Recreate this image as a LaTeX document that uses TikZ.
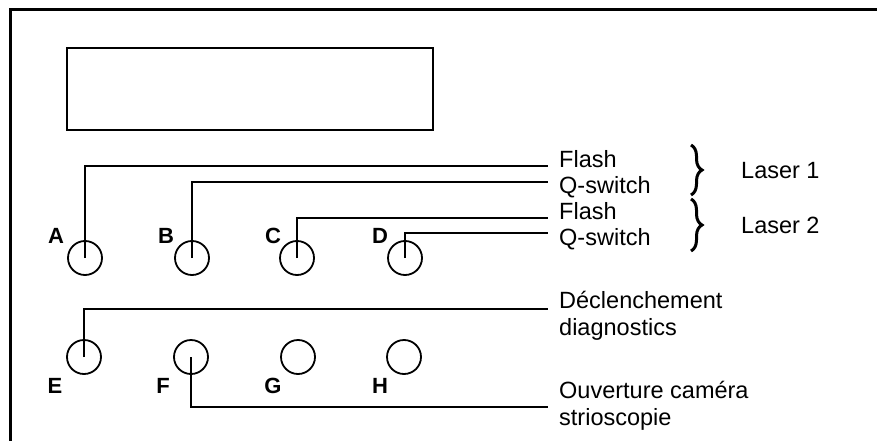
\documentclass[tikz,border=0pt]{standalone}
\usepackage{fontspec}
\setmainfont{Liberation Sans}
\usetikzlibrary{decorations.pathreplacing}
\begin{document}
\begin{tikzpicture}[x=1pt,y=-1pt,
  port/.style={circle,draw,minimum size=34pt,inner sep=0pt,line width=1.8pt},
  lab/.style={font=\fontsize{22}{25}\selectfont\bfseries,inner sep=0pt},
  txt/.style={font=\fontsize{23.5}{27}\selectfont,inner sep=0pt,anchor=base west},
  wire/.style={line width=1.3pt},
  brc/.style={decorate,decoration={brace,amplitude=11pt,aspect=0.5},line width=3pt}]
\useasboundingbox (0,0) rectangle (877,441);
% outer frame
\draw[line width=3pt] (10,445) -- (10,10) -- (880,10);
% display window
\draw[line width=2pt] (67,48) rectangle (433,130);
% upper ports
\node[port] (A) at (85,258) {};
\node[port] (B) at (192,258) {};
\node[port] (C) at (297,258) {};
\node[port] (D) at (405,258) {};
\node[lab] (lA) at (56,236) {A};
\node[lab] (lB) at (166,236) {B};
\node[lab] (lC) at (273,236) {C};
\node[lab] (lD) at (380,236) {D};
% lower ports
\node[port] (E) at (84,357) {};
\node[port] (F) at (191,357) {};
\node[port] (G) at (298,357) {};
\node[port] (H) at (404,357) {};
\node[lab] (lE) at (55,386) {E};
\node[lab] (lF) at (163,386) {F};
\node[lab] (lG) at (273,386) {G};
\node[lab] (lH) at (380,386) {H};
% texts
\node[txt] (t1) at (559,167) {Flash};
\node[txt] (t2) at (559,193) {Q-switch};
\node[txt] (t3) at (559,219) {Flash};
\node[txt] (t4) at (559,245.5) {Q-switch};
\node[txt] (t5) at (559,308) {Déclenchement};
\node[txt] (t6) at (559,335) {diagnostics};
\node[txt] (t7) at (559,398) {Ouverture caméra};
\node[txt] (t8) at (559,425) {strioscopie};
\node[font=\fontsize{23.5}{27}\selectfont,inner sep=0pt,anchor=west] (L1) at (741,171) {Laser 1};
\node[font=\fontsize{23.5}{27}\selectfont,inner sep=0pt,anchor=west] (L2) at (741,225) {Laser 2};
% wire ends
\coordinate (eA) at (548,166);
\coordinate (eB) at (548,182);
\coordinate (eC) at (548,218);
\coordinate (eD) at (548,233);
\coordinate (eE) at (548,309);
\coordinate (eF) at (548,407);
\draw[wire] (A.center) |- (eA);
\draw[wire] (B.center) |- (eB);
\draw[wire] (C.center) |- (eC);
\draw[wire] (D.center) |- (eD);
\draw[wire] (E.center) |- (eE);
\draw[wire] (F.center) |- (eF);
% braces
\coordinate (b1t) at (691,145);
\coordinate (b1b) at (691,195);
\coordinate (b2t) at (691,199);
\coordinate (b2b) at (691,251);
\draw[brc] (b1t) -- (b1b);
\draw[brc] (b2t) -- (b2b);
\end{tikzpicture}
\end{document}
